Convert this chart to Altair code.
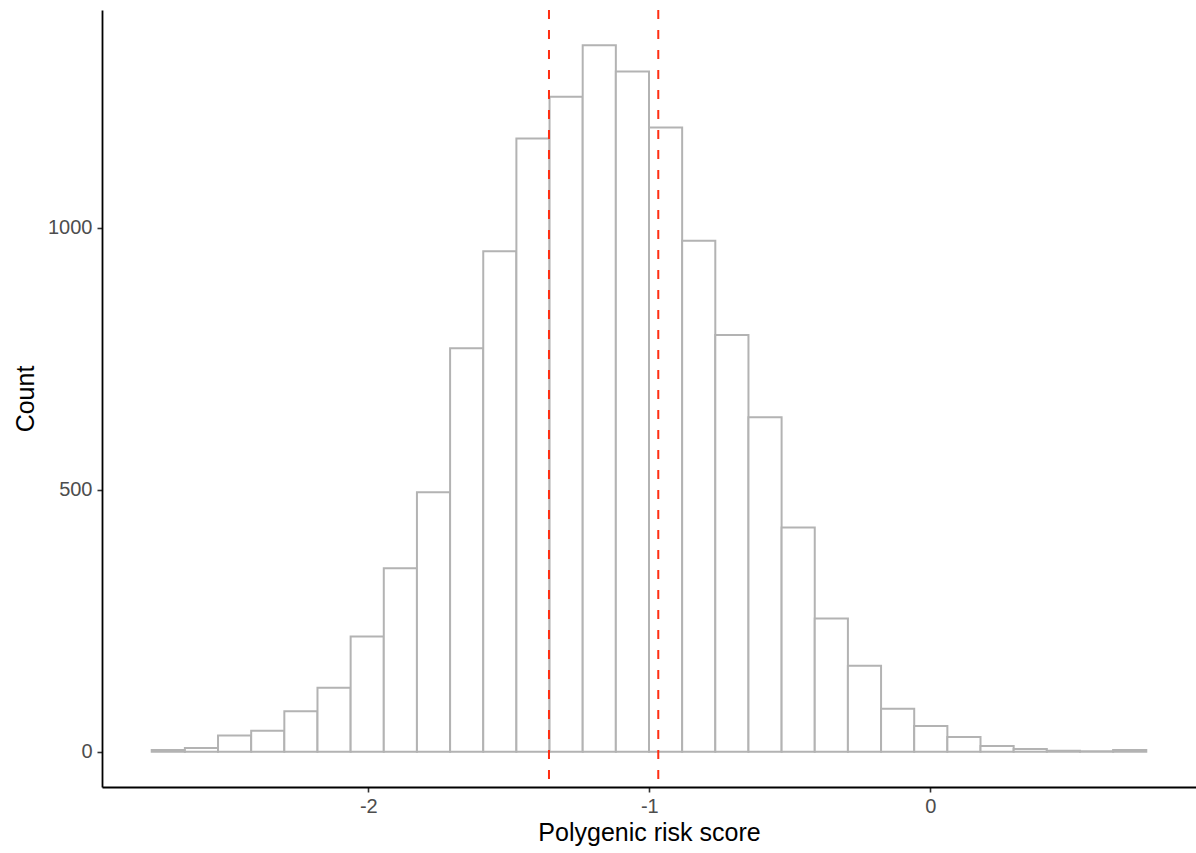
import altair as alt
import pandas as pd

# Histogram bin edges (Polygenic risk score), 30 bins
bin_edges = [-2.771, -2.653, -2.535, -2.417, -2.299, -2.181, -2.063, -1.945,
             -1.827, -1.709, -1.591, -1.473, -1.355, -1.237, -1.119, -1.001,
             -0.883, -0.765, -0.647, -0.529, -0.411, -0.293, -0.175, -0.057,
             0.061, 0.179, 0.297, 0.415, 0.533, 0.651, 0.769]
counts = [3, 7, 31, 40, 77, 122, 220, 350, 495, 770,
          955, 1170, 1250, 1348, 1298, 1191, 975, 795, 638, 428,
          254, 164, 82, 49, 28, 11, 5, 2, 1, 3]
vline_positions = [-1.357, -0.968]
x_ticks = [-2, -1, 0]
y_ticks = [0, 500, 1000]

hist = pd.DataFrame({
    "start": bin_edges[:-1],
    "end": bin_edges[1:],
    "count": counts,
})
vlines = pd.DataFrame({"x": vline_positions})

W, H = 1094, 777
FONT = "Liberation Sans"

xscale = alt.Scale(domain=[-2.948, 0.946], nice=False, zero=False)
yscale = alt.Scale(domain=[-67.4, 1415.4], nice=False, zero=False)

bars = alt.Chart(hist).mark_rect(
    fill="white", stroke="#B3B3B3", strokeWidth=2
).encode(
    x=alt.X("start:Q", scale=xscale,
            axis=alt.Axis(values=x_ticks, title="Polygenic risk score",
                          labelExpr="datum.value + ''")),
    x2="end:Q",
    y=alt.Y("count:Q", scale=yscale,
            axis=alt.Axis(values=y_ticks, title="Count", format="d")),
    y2=alt.datum(0),
)

rules = alt.Chart(vlines).mark_rule(
    color="#FF2E12", strokeWidth=2, strokeDash=[9, 11]
).encode(
    x=alt.X("x:Q", scale=xscale),
    y=alt.value(0),
    y2=alt.value(H),
)

chart = alt.layer(bars, rules).properties(
    width=W, height=H,
    autosize=alt.AutoSizeParams(type="none"),
    padding={"left": 102, "top": 10, "right": 0, "bottom": 66},
).configure_view(
    stroke=None
).configure_axis(
    grid=False,
    domainColor="black",
    domainWidth=1.8,
    tickColor="#333333",
    tickWidth=1.6,
    tickSize=5,
    labelColor="#4D4D4D",
    labelFontSize=20,
    labelFont=FONT,
    labelPadding=4,
    titleFont=FONT,
    titleFontSize=25,
    titleFontWeight="normal",
    titleColor="black",
).configure_axisY(
    titlePadding=9,
    labelPadding=5,
).configure_axisX(
    titlePadding=4,
)

chart.save("out.html", embed_options={"renderer": "svg", "actions": False})
